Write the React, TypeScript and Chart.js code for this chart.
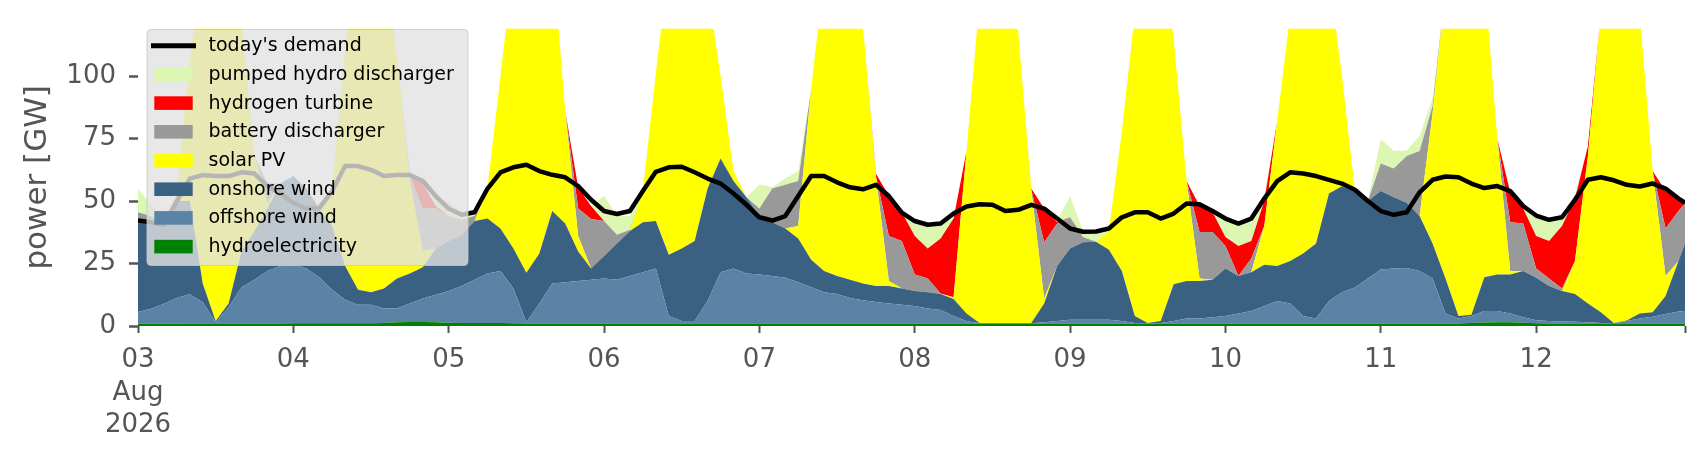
import React, { useEffect, useRef } from "react";
import { Chart, registerables } from "chart.js";

Chart.register(...registerables);

// time axis: hours since 03 Aug 2026 00:00 (2-hourly samples, last sample at 23:00 on 12 Aug)
const HOURS: number[] = Array.from({ length: 120 }, (_, i) => i * 2).concat([239]);
const AXIS_END = 239;
const TICK_HOURS = [0, 24, 48, 72, 96, 120, 144, 168, 192, 216];
const DAY_LABELS = ["03", "04", "05", "06", "07", "08", "09", "10", "11", "12"];
const FIRST_LABEL_EXTRA = ["Aug", "2026"];
const Y_TICKS = [0, 25, 50, 75, 100];
const Y_MAX = 119;

// GW, one row per day (12 two-hour samples), final value = 12 Aug 23:00
const HYDRO = [
  0.9, 0.9, 0.9, 0.9, 1, 1, 1, 1, 1, 1, 1, 1,
  1.1, 1.1, 1.1, 1.1, 1.1, 1.1, 1.1, 1.2, 1.5, 1.6, 1.6, 1.5,
  1.3, 1.2, 1.2, 1.2, 1.2, 1.1, 1, 1, 1, 1, 1, 1,
  1, 1, 1, 1, 1, 1, 1, 1, 1, 1, 1, 1,
  1, 1, 1, 1, 1, 1, 1, 1, 1, 1, 1, 1,
  1, 1, 1, 1, 1, 1, 1, 1, 1, 1, 1, 1,
  1, 1, 1, 1, 1, 1, 1, 1, 1, 1, 1, 1,
  1, 1, 1, 1, 1, 1, 1, 1, 1, 1, 1, 1,
  1, 1, 1, 1, 1, 1, 1, 1.2, 1.4, 1.5, 1.5, 1.3,
  1.1, 1, 1, 1, 1, 1, 1, 1, 1, 1, 1, 1,
  1,
];

const OFFSHORE = [
  4.7, 6, 8, 10.3, 11.7, 8.5, 0.5, 6.5, 14.5, 17.5, 21, 23,
  23.4, 21.9, 18.4, 13.4, 9.4, 7.4, 7.4, 5.8, 5.5, 7.4, 9.4, 11,
  12.7, 14.8, 17.3, 19.8, 20.8, 13.9, 0.5, 8, 16, 16.5, 17, 17.5,
  18, 17.5, 19, 20.5, 22, 3, 1, 1, 9, 20.5, 22, 20,
  19.6, 19, 18.3, 16.5, 14.5, 12.5, 11.8, 10.2, 9.3, 8.6, 8, 7.5,
  7, 6, 5.4, 3, 1, 0.1, 0.1, 0.1, 0.1, 0.1, 0.5, 1,
  1.5, 1.5, 1.5, 1.5, 1, 0.2, 0.1, 0.2, 1, 2, 2, 2.5,
  3, 4, 5, 7, 9, 8, 3, 2, 9, 12.5, 14.4, 18,
  21.6, 22, 22.2, 21, 18, 4, 2, 2.8, 4.6, 4.5, 3.5, 2.2,
  1.2, 1, 0.8, 0.7, 0.5, 0.2, 0.1, 1, 2, 2.7, 3.8, 4.8,
  5,
];

const ONSHORE = [
  37.4, 35.1, 31.1, 38.8, 37.3, 7.5, 0.5, 1.5, 14.5, 19.5, 25, 33,
  35.5, 32, 27.5, 25.5, 13.5, 6, 5, 8, 12, 12, 12.5, 18.5,
  20, 20.5, 23.5, 22, 17, 16, 19.8, 20, 29, 23.5, 11.8, 4.5,
  9, 14.5, 18, 20, 19, 24.5, 29, 32, 45, 45.5, 35, 30.5,
  23.4, 21.5, 19.7, 17.5, 11, 8.5, 7.2, 7.3, 6.7, 6.4, 7, 6.5,
  6, 6.5, 6.4, 6.8, 3, 0.1, 0.1, 0.1, 0.1, 0.1, 7.5, 22,
  28.5, 31, 31.2, 28, 20, 2.8, 0.1, 0.8, 14.7, 15, 15, 15,
  19, 15, 15.5, 16.5, 14, 17, 25, 30, 43, 42.4, 38.6, 31,
  31.4, 28.5, 26.1, 22, 14, 14, 1, 0.5, 13.5, 14.6, 15.6, 18.5,
  17, 14, 12.2, 11.1, 7.5, 4.3, 0.1, 0.2, 2, 1.8, 7.2, 20.2,
  27,
];

const SOLAR = [
  0, 0, 0, 3, 55, 133, 158, 146, 92, 30, 2, 0,
  0, 0, 0, 15, 86, 135.5, 146.5, 135, 89, 37, 6.5, 0,
  0, 0, 0, 12, 61, 114, 138.7, 131, 104, 45, 6.2, 0,
  0, 0, 0, 12.5, 59, 116.5, 129, 121, 80, 33, 4, 0,
  0, 0, 0, 5, 68.5, 118, 135, 131.5, 103, 44, 2, 0,
  0, 0, 0, 0.7, 65, 128.8, 158.8, 148.8, 115.8, 53.4, 2, 0,
  0, 0, 0, 7.5, 56, 121, 153.8, 148, 98.3, 40, 1, 0,
  0, 0, 0, 15.5, 58, 99, 126, 127, 87, 44.1, 0, 0,
  0, 0, 0, 0, 52, 116, 156, 150.5, 120.5, 54.4, 1.4, 0,
  0, 0, 0, 13.2, 59, 119.5, 153.8, 157.8, 120, 56.5, 8, 0,
  0,
];

const BATTERY = [
  2.5, 2, 1, 0, 0, 0, 0, 0, 0, 0, 8, 0,
  0, 0, 0, 0, 0, 0, 0, 0, 0, 2, 17, 16,
  10, 6, 2, 0, 0, 0, 0, 0, 0, 0, 11, 19.8,
  14, 3.5, 0.5, 0, 0, 0, 0, 0, 0, 0, 0, 0,
  3, 13.5, 17.5, 18, 0, 0, 0, 0, 0, 0, 18, 19,
  6.6, 5.5, 0.2, 0, 0, 0, 0, 0, 0, 0, 22.5, 17,
  12.5, 2.1, 0, 0, 0, 0, 0, 0, 0, 0, 18.6, 19.1,
  9, 0, 5.5, 0, 0, 0, 0, 0, 0, 0, 0, 0,
  11, 11.5, 18.7, 26, 3, 0, 0, 0, 0, 0, 19.5, 19,
  3.7, 3, 1, 0, 0, 0, 0, 0, 0, 0, 19, 20,
  16,
];

const HYDROGEN = [
  0, 0, 0, 0, 0, 0, 0, 0, 0, 0, 0, 0,
  0, 0, 0, 0, 0, 0, 0, 0, 0, 1, 10, 1,
  0, 0, 0, 0, 0, 0, 0, 0, 0, 0, 8.5, 5.2,
  0, 0, 0, 0, 0, 0, 0, 0, 0, 0, 0, 0,
  0, 0, 0, 0, 0, 0, 0, 0, 0, 1, 16, 11.5,
  15.4, 12, 22, 31.5, 0, 0, 0, 0, 0, 0.4, 13.5, 0.5,
  0, 0, 0, 0, 0, 0, 0, 0, 0, 0, 10.4, 7.9,
  3.6, 12, 7, 10, 0, 0, 0, 0, 0, 0, 0, 0,
  0, 0, 0, 0, 0, 0, 0, 0, 0, 0, 12, 6,
  13, 15, 25, 25, 4, 0, 0, 0, 0, 0, 15, 5,
  0.3,
];

const PUMPED_HYDRO = [
  9.1, 5, 2, 0, 0, 0, 0, 0, 0, 0, 0, 0,
  0, 0, 0, 0, 0, 0, 0, 0, 0, 0, 0, 3,
  6, 2.5, 2, 1, 0, 0, 0, 0, 0, 0, 0, 0,
  10, 7.5, 5.5, 1, 0, 0, 0, 0, 0, 0, 0, 0,
  9.6, 0.5, 2.5, 4, 0, 0, 0, 0, 0, 0, 0, 0,
  5.5, 9.2, 6, 0, 0, 0, 0, 0, 0, 0, 0, 0.5,
  8.5, 2.4, 4.3, 0.5, 0, 0, 0, 0, 0, 0, 0.5, 0.5,
  7.4, 9, 7.5, 2, 0, 0, 0, 0, 0, 0, 0, 0,
  9.8, 7, 2.2, 6, 3, 0, 0, 0, 0, 0, 0.5, 0,
  8, 8.5, 4, 0.5, 0, 0, 0, 0, 0, 0, 0, 0,
  0,
];

const DEMAND = [
  42.2, 41.5, 40.5, 50, 59, 60.4, 60, 60, 61.5, 61, 56, 53,
  49.3, 47, 47.2, 54, 64, 64, 62.5, 60, 60.4, 60.4, 58, 52,
  47, 44.5, 45.5, 55, 61.5, 63.5, 64.5, 62, 60.5, 59.5, 56, 50.5,
  46, 44.8, 46, 54, 61.7, 63.5, 63.7, 61.5, 59, 57, 53, 48.5,
  43.5, 42.2, 44, 52, 60, 60, 57.5, 55.5, 54.7, 56.5, 52, 45.4,
  42, 40.5, 41, 45, 47.8, 48.7, 48.5, 46, 46.5, 48.5, 47, 43,
  39, 37.7, 37.8, 39, 43.5, 45.5, 45.5, 43, 45, 49, 48.7, 46,
  43, 41, 43, 51, 58, 61.5, 61, 60, 58.5, 57, 54.5, 50,
  46, 44.5, 45.5, 53.5, 58.5, 59.8, 59.5, 57, 55.2, 56, 54, 48,
  44.2, 42.5, 43.5, 50.5, 58.5, 59.5, 58.3, 56.5, 55.8, 57, 55, 51,
  49.3,
];

// stacking order bottom -> top
const SERIES = [
  { label: "hydroelectricity", color: "#008000", values: HYDRO },
  { label: "offshore wind", color: "#5b83a5", values: OFFSHORE },
  { label: "onshore wind", color: "#3b6182", values: ONSHORE },
  { label: "solar PV", color: "#ffff00", values: SOLAR },
  { label: "battery discharger", color: "#999999", values: BATTERY },
  { label: "hydrogen turbine", color: "#ff0000", values: HYDROGEN },
  { label: "pumped hydro discharger", color: "#dbf7b1", values: PUMPED_HYDRO },
];
const DEMAND_LABEL = "today's demand";

const FONT = "'DejaVu Sans', 'Liberation Sans', sans-serif";
const AXIS_GREY = "#555555";

const toPoints = (vals: number[]) => HOURS.map((h, i) => ({ x: h, y: vals[i] }));

const floatingLegend = {
  id: "floatingLegend",
  afterDraw(chart: any) {
    const c: CanvasRenderingContext2D = chart.ctx;
    const bx = 147, by = 29.5, bw = 321, bh = 236;
    c.save();
    c.beginPath();
    if ((c as any).roundRect) (c as any).roundRect(bx, by, bw, bh, 4);
    else c.rect(bx, by, bw, bh);
    c.fillStyle = "rgba(226,226,226,0.8)";
    c.fill();
    c.lineWidth = 1;
    c.strokeStyle = "rgba(200,200,200,0.8)";
    c.stroke();

    const ds = chart.data.datasets;
    const rows = [ds[0], ...ds.slice(1).reverse()];
    c.font = "19px " + FONT;
    c.textBaseline = "middle";
    c.textAlign = "left";
    rows.forEach((d: any, i: number) => {
      const y = 45.7 + i * 28.7;
      if (i === 0) {
        c.beginPath();
        c.strokeStyle = d.borderColor;
        c.lineWidth = 5;
        c.lineCap = "square";
        c.moveTo(153.5, y);
        c.lineTo(193.5, y);
        c.stroke();
      } else {
        c.fillStyle = d.backgroundColor;
        c.fillRect(154.3, y - 6.8, 38.4, 13.6);
      }
      c.fillStyle = "#000000";
      c.fillText(d.label, 208.5, y + 0.5);
    });
    c.restore();
  },
};

export default function App() {
  const ref = useRef<HTMLCanvasElement | null>(null);

  useEffect(() => {
    if (!ref.current) return;
    Chart.defaults.font.family = FONT;

    const areaSets = SERIES.map((s, i) => ({
      label: s.label,
      data: toPoints(s.values),
      backgroundColor: s.color,
      borderColor: s.color,
      borderWidth: 0,
      pointRadius: 0,
      tension: 0,
      fill: i === 0 ? "origin" : "stack",
      stack: "generation",
    }));

    const chart = new Chart(ref.current, {
      type: "line",
      data: {
        datasets: [
          {
            label: DEMAND_LABEL,
            data: toPoints(DEMAND),
            borderColor: "#000000",
            backgroundColor: "#000000",
            borderWidth: 4.5,
            pointRadius: 0,
            tension: 0,
            fill: false,
            stack: "demand",
            borderJoinStyle: "round",
          } as any,
          ...(areaSets as any[]),
        ],
      },
      options: {
        animation: false,
        responsive: true,
        maintainAspectRatio: false,
        events: [],
        layout: { padding: { left: 0, right: 21, top: 22, bottom: 0 } },
        plugins: {
          legend: { display: false },
          tooltip: { enabled: false },
          title: { display: false },
        },
        scales: {
          x: {
            type: "linear",
            min: 0,
            max: AXIS_END,
            afterBuildTicks: (s: any) => {
              s.ticks = TICK_HOURS.concat([AXIS_END]).map((v) => ({ value: v }));
            },
            afterFit: (s: any) => {
              s.height = 134;
            },
            ticks: {
              autoSkip: false,
              maxRotation: 0,
              minRotation: 0,
              color: AXIS_GREY,
              padding: 11,
              font: { size: 26, lineHeight: 1.25 },
              callback: (value: any) => {
                const i = TICK_HOURS.indexOf(Number(value));
                if (i < 0) return "";
                return i === 0 ? [DAY_LABELS[0], ...FIRST_LABEL_EXTRA] : DAY_LABELS[i];
              },
            },
            grid: {
              drawOnChartArea: false,
              drawTicks: true,
              tickLength: 7,
              tickColor: AXIS_GREY,
              tickWidth: 2,
            },
            border: { display: false },
          },
          y: {
            stacked: true,
            min: 0,
            max: Y_MAX,
            afterBuildTicks: (s: any) => {
              s.ticks = Y_TICKS.map((v) => ({ value: v }));
            },
            afterFit: (s: any) => {
              s.width = 138;
            },
            ticks: {
              color: AXIS_GREY,
              padding: 13,
              font: { size: 26 },
            },
            grid: {
              drawOnChartArea: false,
              drawTicks: true,
              tickLength: 9,
              tickColor: AXIS_GREY,
              tickWidth: 2.5,
            },
            border: { display: false },
            title: {
              display: true,
              text: "power [GW]",
              color: AXIS_GREY,
              font: { size: 31 },
              padding: { top: 19, bottom: 0 },
            },
          },
        },
      } as any,
      plugins: [floatingLegend],
    });

    return () => chart.destroy();
  }, []);

  return (
    <div style={{ position: "fixed", left: 0, top: 0, width: 1706, height: 460, background: "#ffffff" }}>
      <canvas ref={ref} />
    </div>
  );
}
